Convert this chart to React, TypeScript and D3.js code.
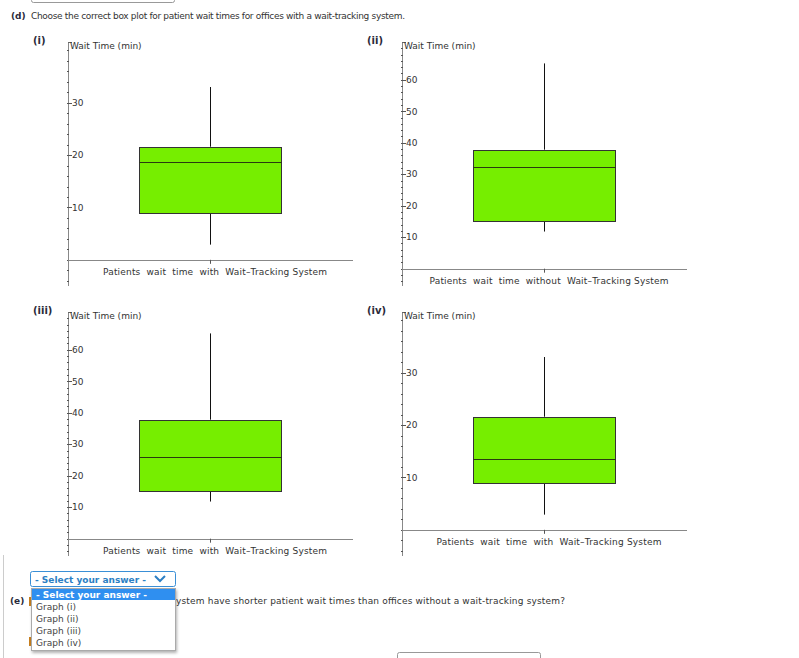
import React from "react";
import * as d3 from "d3";

// ---- data ----
const panelNames = ["(i)", "(ii)", "(iii)", "(iv)"];
const categories = [
  "Patients  wait  time  with  Wait–Tracking System",
  "Patients  wait  time  without  Wait–Tracking System",
  "Patients  wait  time  with  Wait–Tracking System",
  "Patients  wait  time  with  Wait–Tracking System",
];
const whiskerLow = [2.9, 11.8, 11.8, 2.9];
const q1 = [9.0, 15.0, 15.0, 9.0];
const median = [18.6, 32.2, 25.9, 13.6];
const q3 = [21.6, 37.8, 37.8, 21.6];
const whiskerHigh = [33.0, 65.2, 65.2, 33.0];
const yMin = [-5, -5.5, -5.5, -5];
const yMax = [41.6, 72, 72, 41.6];
const majorTicks = [
  [10, 20, 30],
  [10, 20, 30, 40, 50, 60],
  [10, 20, 30, 40, 50, 60],
  [10, 20, 30],
];
const yTitle = "Wait Time (min)";
const answerOptions = ["- Select your answer -", "Graph (i)", "Graph (ii)", "Graph (iii)", "Graph (iv)"];

const FONT = "DejaVu Sans, Verdana, sans-serif";
const GREEN = "#76ee00";

// layout
const panelOrigins = [
  { ax: 68, ty: 42 },
  { ax: 402, ty: 42 },
  { ax: 68, ty: 312 },
  { ax: 402, ty: 312 },
];
const labelWidths = [224, 239, 224, 225];
const PH = 244;
const PW = 285;

function Panel({ i }: { i: number }) {
  const { ax, ty } = panelOrigins[i];
  const y = d3.scaleLinear().domain([yMin[i], yMax[i]]).range([ty + PH, ty]);
  const x = d3
    .scaleBand<string>()
    .domain([categories[i]])
    .range([ax, ax + PW - 1])
    .paddingInner(0.5)
    .paddingOuter(0.25);
  const bx = x(categories[i]) as number;
  const bw = x.bandwidth();
  const cx = bx + bw / 2;
  const minor = d3.range(Math.ceil(yMin[i] / 2) * 2, yMax[i], 2);
  const y0 = y(0);
  return (
    <g>
      <text x={ax - 35} y={ty + 2} fontFamily={FONT} fontWeight="bold" fontSize={10} fill="#2a2a3a">
        {panelNames[i]}
      </text>
      {/* y axis */}
      <line x1={ax + 0.5} x2={ax + 0.5} y1={ty} y2={ty + PH} stroke="#888" strokeWidth={1} />
      <line x1={ax} x2={ax + 4} y1={ty + 0.5} y2={ty + 0.5} stroke="#666" strokeWidth={1} />
      {minor.map((v) => (
        <line key={"m" + v} x1={ax - 1} x2={ax + 1} y1={Math.round(y(v)) + 0.5} y2={Math.round(y(v)) + 0.5} stroke="#555" strokeWidth={1} />
      ))}
      {majorTicks[i].map((v) => (
        <g key={"t" + v}>
          <line x1={ax} x2={ax + 4} y1={Math.round(y(v)) + 0.5} y2={Math.round(y(v)) + 0.5} stroke="#555" strokeWidth={1} />
          <text x={ax + 4} y={y(v)} dy="0.36em" fontFamily={FONT} fontSize={9} fill="#333">
            {v}
          </text>
        </g>
      ))}
      <text x={ax + 2} y={ty + 6.5} fontFamily={FONT} fontSize={9} fill="#333">
        {yTitle}
      </text>
      {/* x axis */}
      <line x1={ax} x2={ax + PW} y1={Math.round(y0) + 0.5} y2={Math.round(y0) + 0.5} stroke="#888" strokeWidth={1} />
      <line x1={Math.round(cx) + 0.5} x2={Math.round(cx) + 0.5} y1={y0} y2={y0 + 4} stroke="#555" strokeWidth={1} />
      <text
        x={cx + 5 - labelWidths[i] / 2}
        y={y0 + 15}
        fontFamily={FONT}
        fontSize={9}
        fill="#333"
        textLength={labelWidths[i]}
        lengthAdjust="spacing"
        style={{ whiteSpace: "pre" }}
      >
        {categories[i]}
      </text>
      {/* whiskers */}
      <line x1={Math.round(cx) + 0.5} x2={Math.round(cx) + 0.5} y1={y(whiskerHigh[i])} y2={y(q3[i])} stroke="#111" strokeWidth={1} />
      <line x1={Math.round(cx) + 0.5} x2={Math.round(cx) + 0.5} y1={y(q1[i])} y2={y(whiskerLow[i])} stroke="#111" strokeWidth={1} />
      {/* box */}
      <rect
        x={Math.round(bx) + 0.5}
        y={Math.round(y(q3[i])) + 0.5}
        width={Math.round(bw)}
        height={Math.round(y(q1[i])) - Math.round(y(q3[i]))}
        fill={GREEN}
        stroke="#333"
        strokeWidth={1}
      />
      <line
        x1={Math.round(bx) + 0.5}
        x2={Math.round(bx) + Math.round(bw) + 0.5}
        y1={Math.round(y(median[i])) + 0.5}
        y2={Math.round(y(median[i])) + 0.5}
        stroke="#2a3a10"
        strokeWidth={1}
      />
    </g>
  );
}

export default function App() {
  return (
    <svg
      width={799}
      height={658}
      viewBox="0 0 799 658"
      style={{ position: "absolute", left: 0, top: 0, background: "#fff" }}
    >
      <defs>
        <filter id="sh" x="-10%" y="-10%" width="130%" height="130%">
          <feDropShadow dx="1" dy="2" stdDeviation="1.5" floodColor="#000" floodOpacity="0.3" />
        </filter>
      </defs>
      <rect x={0} y={0} width={799} height={658} fill="#fff" />
      {/* previous dropdown box edge */}
      <rect x={31.5} y={-10.5} width={143} height={13} rx={2} fill="#fff" stroke="#999" />
      {/* title */}
      <text x={11} y={19} fontFamily={FONT} fontSize={9} fontWeight="bold" fill="#2a2a3a">(d)</text>
      <text x={31} y={19} fontFamily={FONT} fontSize={9} fill="#333" textLength={374} lengthAdjust="spacing">
        Choose the correct box plot for patient wait times for offices with a wait-tracking system.
      </text>
      {[0, 1, 2, 3].map((i) => (
        <Panel key={i} i={i} />
      ))}
      {/* left border */}
      <line x1={3.5} x2={3.5} y1={555} y2={658} stroke="#ccc" />
      {/* question (e) */}
      <text x={10} y={604} fontFamily={FONT} fontSize={9} fontWeight="bold" fill="#2a2a3a">(e)</text>
      <rect x={29} y={597} width={3} height={9} fill="#c8801e" />
      <rect x={29} y={637} width={3} height={9} fill="#c8801e" />
      <text x={176} y={604} fontFamily={FONT} fontSize={9} fill="#333" textLength={389} lengthAdjust="spacing">
        ystem have shorter patient wait times than offices without a wait-tracking system?
      </text>
      {/* bottom partial box */}
      <rect x={397.5} y={652.5} width={143} height={14} rx={2} fill="#fff" stroke="#999" />
      {/* select box */}
      <rect x={30.5} y={571.5} width={145} height={15} rx={2} fill="#fff" stroke="#3a8fd6" />
      <text x={35} y={582.5} fontFamily={FONT} fontSize={9} fontWeight="bold" fill="#2c7fc4">
        - Select your answer -
      </text>
      <path d="M155,576 L160,581 L165,576" fill="none" stroke="#2c7fc4" strokeWidth={2} />
      {/* open list */}
      <g filter="url(#sh)">
        <rect x={31.5} y={588.5} width={144} height={62} fill="#fff" stroke="#aaa" />
      </g>
      <rect x={32} y={589} width={143} height={11} fill="#2f8ff0" />
      {answerOptions.map((o, k) => (
        <text
          key={o}
          x={36}
          y={597.5 + k * 12}
          fontFamily={FONT}
          fontSize={9}
          fontWeight={k === 0 ? "bold" : "normal"}
          fill={k === 0 ? "#fff" : "#444"}
        >
          {o}
        </text>
      ))}
    </svg>
  );
}
